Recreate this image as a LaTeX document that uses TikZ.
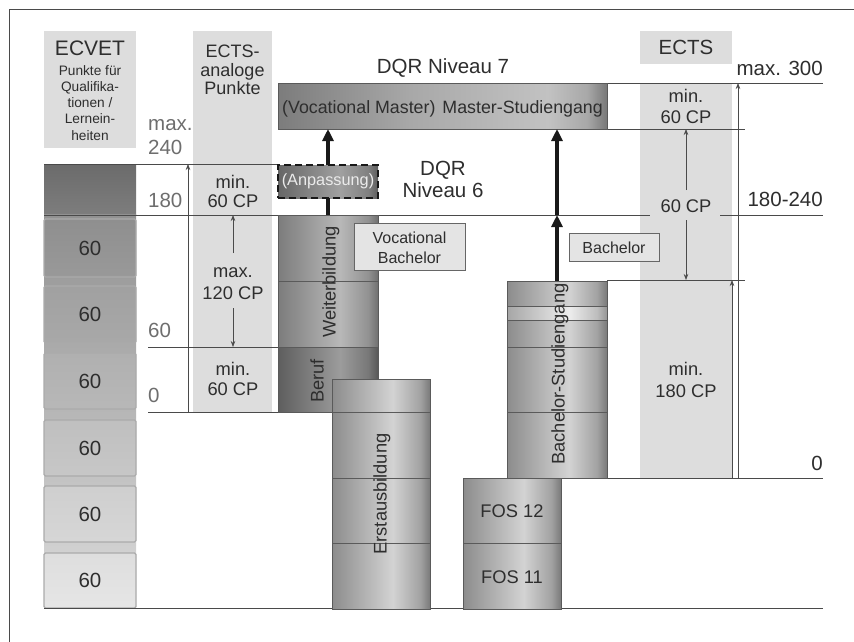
\documentclass[tikz,border=0pt]{standalone}
\usepackage{fontspec}
\setmainfont{Liberation Sans}
\usetikzlibrary{arrows.meta}
\definecolor{hdr}{HTML}{DDDDDD}
\definecolor{txt}{HTML}{2E2E2E}
\definecolor{ltxt}{HTML}{6E6E6E}
\definecolor{ln}{HTML}{4A4A4A}
\definecolor{edge}{HTML}{5A5A5A}
\definecolor{a1}{HTML}{8C8C8C}
\definecolor{a2}{HTML}{D3D3D3}
\definecolor{a3}{HTML}{A2A2A2}
\definecolor{a4}{HTML}{7A7A7A}
\definecolor{w1}{HTML}{7C7C7C}
\definecolor{w2}{HTML}{B8B8B8}
\definecolor{w3}{HTML}{929292}
\definecolor{w4}{HTML}{707070}
\definecolor{r1}{HTML}{5E5E5E}
\definecolor{r2}{HTML}{9C9C9C}
\definecolor{r3}{HTML}{787878}
\definecolor{r4}{HTML}{585858}
\definecolor{l1}{HTML}{A6A6A6}
\definecolor{l2}{HTML}{EDEDED}
\definecolor{l3}{HTML}{BDBDBD}
\definecolor{l4}{HTML}{959595}
\definecolor{m1}{HTML}{7C7C7C}
\definecolor{m2}{HTML}{A8A8A8}
\definecolor{m3}{HTML}{C2C2C2}
\definecolor{m4}{HTML}{787878}
\definecolor{p1}{HTML}{666666}
\definecolor{p2}{HTML}{A0A0A0}
\definecolor{p3}{HTML}{808080}
\definecolor{p4}{HTML}{5E5E5E}
\definecolor{evb}{HTML}{ABABAB}
\pgfdeclarehorizontalshading{cylA}{100bp}{color(0bp)=(a1); color(25bp)=(a1); color(56bp)=(a2); color(70bp)=(a3); color(75bp)=(a4); color(100bp)=(a4)}
\pgfdeclarehorizontalshading{cylW}{100bp}{color(0bp)=(w1); color(25bp)=(w1); color(56bp)=(w2); color(70bp)=(w3); color(75bp)=(w4); color(100bp)=(w4)}
\pgfdeclarehorizontalshading{cylR}{100bp}{color(0bp)=(r1); color(25bp)=(r1); color(56bp)=(r2); color(70bp)=(r3); color(75bp)=(r4); color(100bp)=(r4)}
\pgfdeclarehorizontalshading{cylL}{100bp}{color(0bp)=(l1); color(25bp)=(l1); color(56bp)=(l2); color(70bp)=(l3); color(75bp)=(l4); color(100bp)=(l4)}
\pgfdeclarehorizontalshading{cylP}{100bp}{color(0bp)=(p1); color(25bp)=(p1); color(56bp)=(p2); color(70bp)=(p3); color(75bp)=(p4); color(100bp)=(p4)}
\pgfdeclarehorizontalshading{cylM}{100bp}{color(0bp)=(m1); color(25bp)=(m1); color(45bp)=(m2); color(66bp)=(m3); color(72bp)=(m2); color(75bp)=(m4); color(100bp)=(m4)}
\tikzset{
  box/.style={inner sep=0pt, outer sep=0pt, anchor=north west},
  cyl/.style={box, draw=edge, line width=0.7pt, shade, shading=#1},
  hbox/.style={box, fill=hdr},
  ev/.style={box, rounded corners=1.5pt, draw=evb, line width=1.1pt},
  lbl/.style={box, fill=hdr!80!white, draw=gray!80!black, line width=0.6pt},
  scl/.style={draw=ln, line width=0.7pt},
  tip/.style={scl, -{Stealth[length=6pt,width=4.5pt]}},
  thick arrow/.style={draw=black!90, line width=3.4pt, -{Triangle[length=12pt,width=11pt]}},
  thick line/.style={draw=black!90, line width=3.4pt},
  fbig/.style={font=\fontsize{20.5}{24}\selectfont, text=txt, inner sep=0pt},
  fmid/.style={font=\fontsize{18.3}{21}\selectfont, text=txt, inner sep=0pt},
  fhd/.style={font=\fontsize{18}{20}\selectfont, text=txt, inner sep=0pt},
  fsml/.style={font=\fontsize{16}{19}\selectfont, text=txt, inner sep=0pt},
  ftiny/.style={font=\fontsize{13.7}{16}\selectfont, text=txt, inner sep=0pt},
}
\begin{document}
\begin{tikzpicture}[x=1pt, y=-1pt]
\useasboundingbox (0,0) rectangle (854,642);
\fill[white] (0,0) rectangle (854,642);
% frame
\coordinate (fA) at (9,642);
\coordinate (fB) at (9,10);
\coordinate (fC) at (854,10);
\draw[ln, line width=1pt] (fA) -- (fB) -- (fC);

% light gray header / columns
\node[hbox, minimum width=92pt, minimum height=117pt] (hE) at (44,31) {};
\node[hbox, minimum width=79pt, minimum height=381pt] (colA) at (193,31) {};
\node[hbox, minimum width=92pt, minimum height=33pt] (hR) at (640,31) {};
\node[hbox, minimum width=92pt, minimum height=395pt] (colR) at (640,83) {};

% ECVET column
\node[box, top color=black!58, bottom color=black!51, minimum width=92pt, minimum height=50pt] (eTop) at (44,164) {};
\node[box, top color=black!43, bottom color=black!14, minimum width=92pt, minimum height=394pt] (eBg) at (44,214) {};
\node[ev, top color=black!44, bottom color=black!40, minimum width=92pt, minimum height=58pt] (e1) at (44,219) {};
\node[ev, top color=black!37, bottom color=black!34, minimum width=92pt, minimum height=57pt] (e2) at (44,286) {};
\node[ev, top color=black!31, bottom color=black!28, minimum width=92pt, minimum height=56pt] (e3) at (44,353) {};
\node[ev, top color=black!25, bottom color=black!22, minimum width=92pt, minimum height=56pt] (e4) at (44,420) {};
\node[ev, top color=black!19, bottom color=black!16, minimum width=92pt, minimum height=56pt] (e5) at (44,486) {};
\node[ev, top color=black!13, bottom color=black!10, minimum width=92pt, minimum height=55pt] (e6) at (44,553) {};

% scale lines
\coordinate (h164a) at (44,164);   \coordinate (h164b) at (278,164);
\coordinate (h215a) at (44,215);   \coordinate (h215b) at (650,215);
\coordinate (h215c) at (720,215);  \coordinate (h215d) at (823,215);
\coordinate (h347a) at (148,347);  \coordinate (h347b) at (278,347);
\coordinate (h412a) at (148,412);  \coordinate (h412b) at (332,412);
\coordinate (h83a) at (607,83);    \coordinate (h83b) at (823,83);
\coordinate (h129a) at (607,129);  \coordinate (h129b) at (745,129);
\coordinate (h280a) at (607,280);  \coordinate (h280b) at (745,280);
\coordinate (h478a) at (561,478);  \coordinate (h478b) at (823,478);
\coordinate (h608a) at (44,608);   \coordinate (h608b) at (823,608);
\draw[scl] (h164a) -- (h164b);
\draw[scl] (h215a) -- (h215b);
\draw[scl] (h215c) -- (h215d);
\draw[scl] (h347a) -- (h347b);
\draw[scl] (h412a) -- (h412b);
\draw[scl] (h83a) -- (h83b);
\draw[scl] (h129a) -- (h129b);
\draw[scl] (h280a) -- (h280b);
\draw[scl] (h478a) -- (h478b);
\draw[scl] (h608a) -- (h608b);

% vertical scale arrows
\coordinate (v188a) at (188,412);  \coordinate (v188b) at (188,164);
\coordinate (v233a) at (233,253);  \coordinate (v233b) at (233,215);
\coordinate (v233c) at (233,308);  \coordinate (v233d) at (233,347);
\coordinate (v686a) at (686,190);  \coordinate (v686b) at (686,129);
\coordinate (v686c) at (686,220);  \coordinate (v686d) at (686,280);
\coordinate (v738a) at (738,478);  \coordinate (v738b) at (738,83);
\coordinate (v732a) at (732,478);  \coordinate (v732b) at (732,280);
\draw[tip] (v188a) -- (v188b);
\draw[tip] (v233a) -- (v233b);
\draw[tip] (v233c) -- (v233d);
\draw[tip] (v686a) -- (v686b);
\draw[tip] (v686c) -- (v686d);
\draw[tip] (v738a) -- (v738b);
\draw[tip] (v732a) -- (v732b);

% cylinders
\node[cyl=cylW, minimum width=100pt, minimum height=66pt] (wb1) at (278,215) {};
\node[cyl=cylW, minimum width=100pt, minimum height=66pt] (wb2) at (278,281) {};
\node[cyl=cylR, minimum width=100pt, minimum height=65pt] (be) at (278,347) {};
\node[cyl=cylA, minimum width=98pt, minimum height=33pt] (er1) at (332,379) {};
\node[cyl=cylA, minimum width=98pt, minimum height=66pt] (er2) at (332,412) {};
\node[cyl=cylA, minimum width=98pt, minimum height=65pt] (er3) at (332,478) {};
\node[cyl=cylA, minimum width=98pt, minimum height=66pt] (er4) at (332,543) {};
\node[cyl=cylA, minimum width=98pt, minimum height=65pt] (fos12) at (463,478) {};
\node[cyl=cylA, minimum width=98pt, minimum height=66pt] (fos11) at (463,543) {};
\node[cyl=cylA, minimum width=100pt, minimum height=25pt] (ba1) at (507,281) {};
\node[cyl=cylL, minimum width=100pt, minimum height=14pt] (ba2) at (507,306) {};
\node[cyl=cylA, minimum width=100pt, minimum height=27pt] (ba3) at (507,320) {};
\node[cyl=cylA, minimum width=100pt, minimum height=65pt] (ba4) at (507,347) {};
\node[cyl=cylA, minimum width=100pt, minimum height=66pt] (ba5) at (507,412) {};
\node[cyl=cylM, minimum width=329pt, minimum height=46pt] (mst) at (278,83) {};
\node[box, shade, shading=cylP, draw=black!90, line width=2.4pt, dash pattern=on 7pt off 4pt, minimum width=100pt, minimum height=33pt] (anp) at (278,165) {};

% label boxes
\node[lbl, minimum width=111pt, minimum height=47pt] (vbx) at (354,223) {};
\node[lbl, minimum width=90pt, minimum height=28pt] (bbx) at (569,233) {};

% thick arrows
\draw[thick line] (wb1.north) -- (anp.south);
\draw[thick arrow] (anp.north) -- (anp.north |- mst.south);
\coordinate (bq) at (ba1.north |- h215a);
\draw[thick arrow] (ba1.north) -- (bq);
\draw[thick arrow] (bq) -- (bq |- mst.south);

% texts: headers
\node[fbig, font=\fontsize{21}{24}\selectfont, anchor=base] (tE) at (90,56) {ECVET};
\node[ftiny, anchor=base] (tE1) at (90,75) {Punkte für};
\node[ftiny, anchor=base] (tE2) at (90,91.3) {Qualifika-};
\node[ftiny, anchor=base] (tE3) at (90,107.6) {tionen /};
\node[ftiny, anchor=base] (tE4) at (90,123.9) {Lernein-};
\node[ftiny, anchor=base] (tE5) at (90,140.2) {heiten};
\node[fhd, anchor=base] (tA1) at (232.5,58) {ECTS-};
\node[fhd, anchor=base] (tA2) at (232.5,76.5) {analoge};
\node[fhd, anchor=base] (tA3) at (232.5,95) {Punkte};
\node[fbig, anchor=base] (tR) at (686,55) {ECTS};

% left scale labels
\node[fbig, text=ltxt, anchor=base west] (s1) at (148,130) {max.};
\node[fbig, text=ltxt, anchor=base west] (s2) at (148,154) {240};
\node[fbig, text=ltxt, anchor=base west] (s3) at (148,207) {180};
\node[fbig, text=ltxt, anchor=base west] (s4) at (148,337) {60};
\node[fbig, text=ltxt, anchor=base west] (s5) at (148,402) {0};

% ECVET 60s
\node[fbig] (n1) at (e1.center) {60};
\node[fbig] (n2) at (e2.center) {60};
\node[fbig] (n3) at (e3.center) {60};
\node[fbig] (n4) at (e4.center) {60};
\node[fbig] (n5) at (e5.center) {60};
\node[fbig] (n6) at (e6.center) {60};

% ECTS-analoge labels
\node[fmid, anchor=base] (c1a) at (233,188) {min.};
\node[fmid, anchor=base] (c1b) at (233,207) {60 CP};
\node[fmid, anchor=base] (c2a) at (233,277) {max.};
\node[fmid, anchor=base] (c2b) at (233,299) {120 CP};
\node[fmid, anchor=base] (c3a) at (233,375) {min.};
\node[fmid, anchor=base] (c3b) at (233,395) {60 CP};

% ECTS labels
\node[fmid, anchor=base] (d1a) at (686,102) {min.};
\node[fmid, anchor=base] (d1b) at (686,123) {60 CP};
\node[fmid, anchor=base] (d2) at (686,212) {60 CP};
\node[fmid, anchor=base] (d3a) at (686,375) {min.};
\node[fmid, anchor=base] (d3b) at (686,397) {180 CP};

% right scale labels
\node[fbig, anchor=base east] (r1) at (823,76) {max. 300};
\node[fbig, anchor=base east] (r2) at (823,206) {180-240};
\node[fbig, anchor=base east] (r3) at (823,470) {0};

% DQR
\node[fbig, anchor=base] (q7) at (443,74) {DQR Niveau 7};
\node[fbig, anchor=base] (q6a) at (443,175) {DQR};
\node[fbig, anchor=base] (q6b) at (443,197) {Niveau 6};

% box texts
\node[fmid, font=\fontsize{17.8}{20}\selectfont, anchor=base] (tm) at (442.5,113) {(Vocational Master)\hspace{7pt}Master-Studiengang};
\node[fsml, font=\fontsize{16.3}{19}\selectfont, text=black!8] (ta) at (anp.center) {(Anpassung)};
\node[fsml, anchor=base] (tv1) at (409.5,243) {Vocational};
\node[fsml, anchor=base] (tv2) at (409.5,263) {Bachelor};
\node[fsml, anchor=base] (tb) at (614,253) {Bachelor};

% rotated column texts
\node[fmid, rotate=90] (tw) at (331,282) {Weiterbildung};
\node[fmid, rotate=90] (tbe) at (317,381) {Beruf};
\node[fmid, rotate=90] (ter) at (382,494) {Erstausbildung};
\node[fmid, rotate=90] (tbs) at (560,374) {Bachelor-Studiengang};
\node[fmid, anchor=base] (tf12) at (512,517) {FOS 12};
\node[fmid, anchor=base] (tf11) at (512,583) {FOS 11};
\end{tikzpicture}
\end{document}
